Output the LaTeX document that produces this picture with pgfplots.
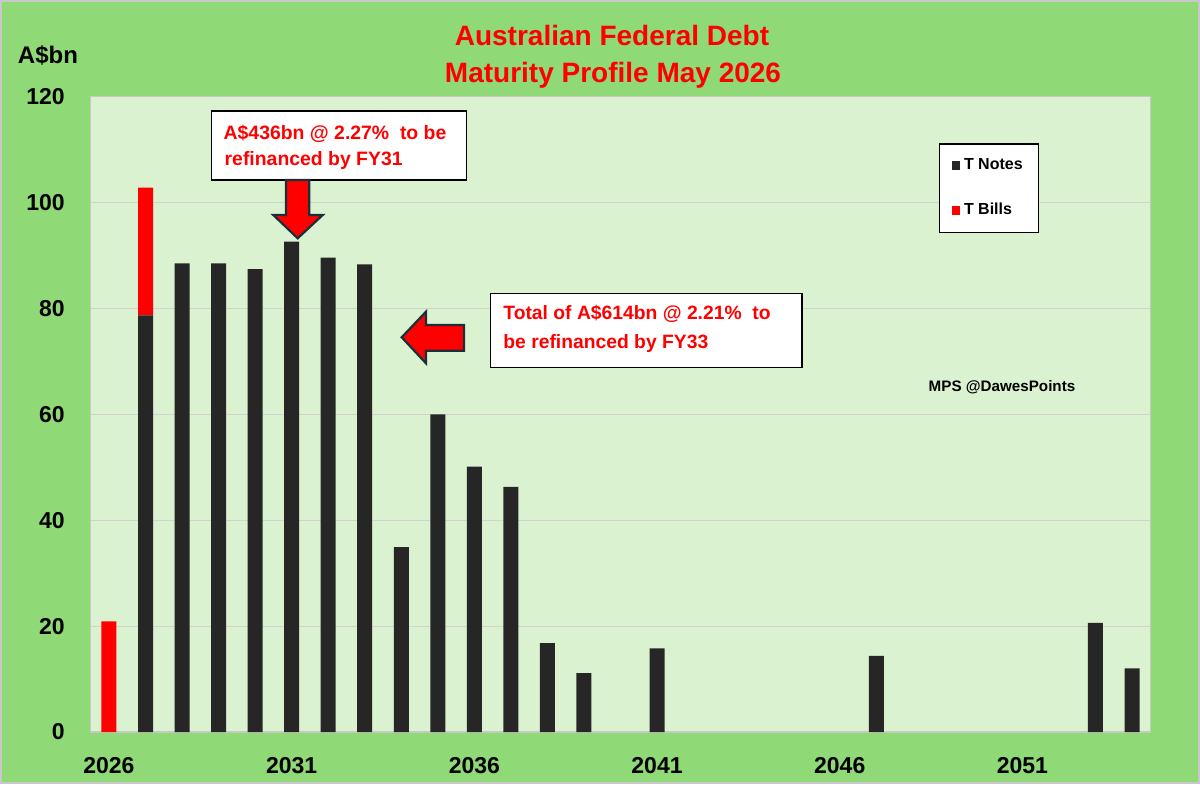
\documentclass[border=0pt]{standalone}
\usepackage{fontspec}
\setmainfont{Liberation Sans}
\usepackage{pgfplots}
\pgfplotsset{compat=1.18}
\definecolor{outergreen}{HTML}{8FD976}
\definecolor{plotgreen}{HTML}{DAF2D0}
\definecolor{barblack}{HTML}{262626}
\definecolor{arrowedge}{HTML}{1B2F3A}
\definecolor{gridgray}{HTML}{D2D2D2}
\definecolor{framegray}{HTML}{C8C8C8}

\pgfplotstableread{
year notes bills
2026 0 20.9
2027 78.7 24.1
2028 88.5 0
2029 88.5 0
2030 87.4 0
2031 92.6 0
2032 89.6 0
2033 88.3 0
2034 34.9 0
2035 60.0 0
2036 50.1 0
2037 46.3 0
2038 16.8 0
2039 11.1 0
2040 0 0
2041 15.8 0
2042 0 0
2043 0 0
2044 0 0
2045 0 0
2046 0 0
2047 14.4 0
2048 0 0
2049 0 0
2050 0 0
2051 0 0
2052 0 0
2053 20.6 0
2054 12.0 0
}\debt

\begin{document}
\begin{tikzpicture}
\path[use as bounding box] (0,0) rectangle (600pt,392pt);
\fill[outergreen] (0,0) rectangle (600pt,392pt);
\begin{axis}[
  at={(45.35pt,26pt)}, anchor=south west,
  scale only axis, width=529.8pt, height=317.7pt,
  ybar stacked, bar width=7.5pt,
  xmin=2025.5, xmax=2054.5, ymin=0, ymax=120,
  xtick={2026,2031,2036,2041,2046,2051},
  ytick={0,20,40,60,80,100,120},
  /pgf/number format/1000 sep={},
  /pgf/number format/assume math mode=true,
  tick label style={font=\bfseries\fontsize{11.5}{13}\selectfont, black},
  xticklabel style={anchor=north, yshift=-9.2pt},
  yticklabel style={anchor=east, xshift=-9.5pt},
  major tick length=0pt,
  ymajorgrids, grid style={gridgray, line width=0.6pt},
  axis line style={draw=framegray, line width=0.7pt},
  axis background/.style={fill=plotgreen},
  legend style={at={(0.8006,0.9264)}, anchor=north west, draw=black, fill=white,
    line width=0.6pt, font=\bfseries\fontsize{8}{9.6}\selectfont,
    row sep=11.5pt, inner xsep=6pt, inner ysep=5.2pt, cells={anchor=west}},
]
\addplot[fill=barblack, draw=none,
  legend image code/.code={\fill[barblack] (0pt,-2.3pt) rectangle (4.2pt,2.3pt);}]
  table[x=year, y=notes] {\debt};
\addlegendentry{T Notes}
\addplot[fill=red, draw=none,
  legend image code/.code={\fill[red] (0pt,-2.3pt) rectangle (4.2pt,2.3pt);}]
  table[x=year, y=bills] {\debt};
\addlegendentry{T Bills}
\end{axis}
\begin{scope}[x=0.5pt, y=-0.5pt, yshift=392pt]
  \draw[framegray, line width=1pt] (1,1) rectangle (1199,783);
  % title
  \node[anchor=base, text=red, font=\bfseries\fontsize{14}{16}\selectfont, inner sep=0] at (612,45) {Australian Federal Debt};
  \node[anchor=base, text=red, font=\bfseries\fontsize{14}{16}\selectfont, inner sep=0] at (613,83) {Maturity Profile May 2026};
  \node[anchor=base, font=\bfseries\fontsize{12}{14}\selectfont, inner sep=0] at (48,63.3) {A\$bn};
  % annotation 1
  \draw[fill=white, draw=black, line width=0.6pt] (211.7,111) rectangle (466.7,180);
  \node[anchor=base west, inner sep=0, text=red, font=\bfseries\fontsize{9.7}{11}\selectfont] at (223.3,139) {A\$436bn @ 2.27\%\ \ to be};
  \node[anchor=base west, inner sep=0, text=red, font=\bfseries\fontsize{9.7}{11}\selectfont] at (224.3,165.7) {refinanced by FY31};
  \filldraw[fill=red, draw=arrowedge, line width=1.1pt, line join=miter]
    (286,180) -- (309.3,180) -- (309.3,215) -- (322.7,215) -- (297.7,238.3) -- (273.3,215) -- (286,215) -- cycle;
  % annotation 2
  \draw[fill=white, draw=black, line width=0.6pt] (490.7,293.3) rectangle (802,367.7);
  \node[anchor=base west, inner sep=0, text=red, font=\bfseries\fontsize{9.65}{11}\selectfont] at (503,319.3) {Total of A\$614bn @ 2.21\%\ \ to};
  \node[anchor=base west, inner sep=0, text=red, font=\bfseries\fontsize{9.65}{11}\selectfont] at (503,348.3) {be refinanced by FY33};
  \filldraw[fill=red, draw=arrowedge, line width=1.1pt, line join=miter]
    (464,325) -- (426,325) -- (426,311.7) -- (401.7,337.3) -- (426,363.3) -- (426,350.7) -- (464,350.7) -- cycle;
  \node[anchor=base, inner sep=0, font=\bfseries\fontsize{7.6}{9}\selectfont] at (1002,391) {MPS @DawesPoints};
\end{scope}
\end{tikzpicture}
\end{document}
